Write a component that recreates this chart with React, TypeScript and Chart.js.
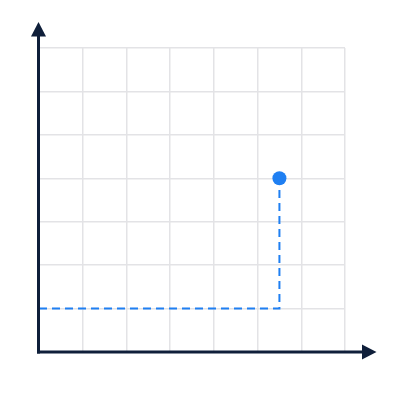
import React, { useEffect, useRef } from "react";
import { Chart, registerables } from "chart.js";

Chart.register(...registerables);

const guideX = [0, 5.5, 5.5];
const guideY = [1, 1, 4];
const pointX = [5.5];
const pointY = [4];
const axisMin = 0;
const axisMax = 7;

const NAVY = "#0f1f3a";
const BLUE = "#1f7ff2";
const GRID = "#e3e3e6";

const arrowAxes = {
  id: "arrowAxes",
  afterDraw(chart: any) {
    const { ctx, chartArea } = chart;
    const l = chartArea.left - 0.5;
    const b = chartArea.bottom;
    ctx.save();
    ctx.strokeStyle = NAVY;
    ctx.fillStyle = NAVY;
    ctx.lineWidth = 3;
    ctx.lineCap = "butt";
    // y axis
    ctx.beginPath();
    ctx.moveTo(l, b + 1.5);
    ctx.lineTo(l, 34);
    ctx.stroke();
    ctx.beginPath();
    ctx.moveTo(l, 22);
    ctx.lineTo(l - 7.5, 36.5);
    ctx.lineTo(l + 7.5, 36.5);
    ctx.closePath();
    ctx.fill();
    // x axis
    ctx.beginPath();
    ctx.moveTo(l - 1.5, b);
    ctx.lineTo(364, b);
    ctx.stroke();
    ctx.beginPath();
    ctx.moveTo(376.5, b);
    ctx.lineTo(362, b - 7.5);
    ctx.lineTo(362, b + 7.5);
    ctx.closePath();
    ctx.fill();
    ctx.restore();
  },
};

export default function App() {
  const ref = useRef<HTMLCanvasElement | null>(null);
  useEffect(() => {
    if (!ref.current) return;
    const chart = new Chart(ref.current, {
      type: "scatter",
      data: {
        datasets: [
          {
            data: pointX.map((x, i) => ({ x, y: pointY[i] })),
            pointRadius: 7,
            pointHoverRadius: 7,
            backgroundColor: BLUE,
            borderColor: BLUE,
            borderWidth: 0,
            order: 0,
          },
          {
            data: guideX.map((x, i) => ({ x, y: guideY[i] })),
            showLine: true,
            borderColor: BLUE,
            borderWidth: 2,
            borderDash: [8, 5],
            pointRadius: 0,
            fill: false,
            order: 1,
          },
        ],
      },
      options: {
        animation: false,
        responsive: false,
        devicePixelRatio: 1,
        layout: { padding: { left: 39, top: 48, right: 55, bottom: 48 } },
        plugins: {
          legend: { display: false },
          tooltip: { enabled: false },
          title: { display: false },
        },
        scales: {
          x: {
            type: "linear",
            min: axisMin,
            max: axisMax,
            ticks: { display: false, stepSize: 1 },
            grid: { color: GRID, lineWidth: 1.5, drawTicks: false },
            border: { display: false },
          },
          y: {
            type: "linear",
            min: axisMin,
            max: axisMax,
            ticks: { display: false, stepSize: 1 },
            grid: { color: GRID, lineWidth: 1.5, drawTicks: false },
            border: { display: false },
          },
        },
      },
      plugins: [arrowAxes],
    });
    return () => chart.destroy();
  }, []);
  return (
    <div style={{ position: "fixed", left: 0, top: 0, width: 400, height: 400, background: "#fff" }}>
      <canvas ref={ref} width={400} height={400} />
    </div>
  );
}
